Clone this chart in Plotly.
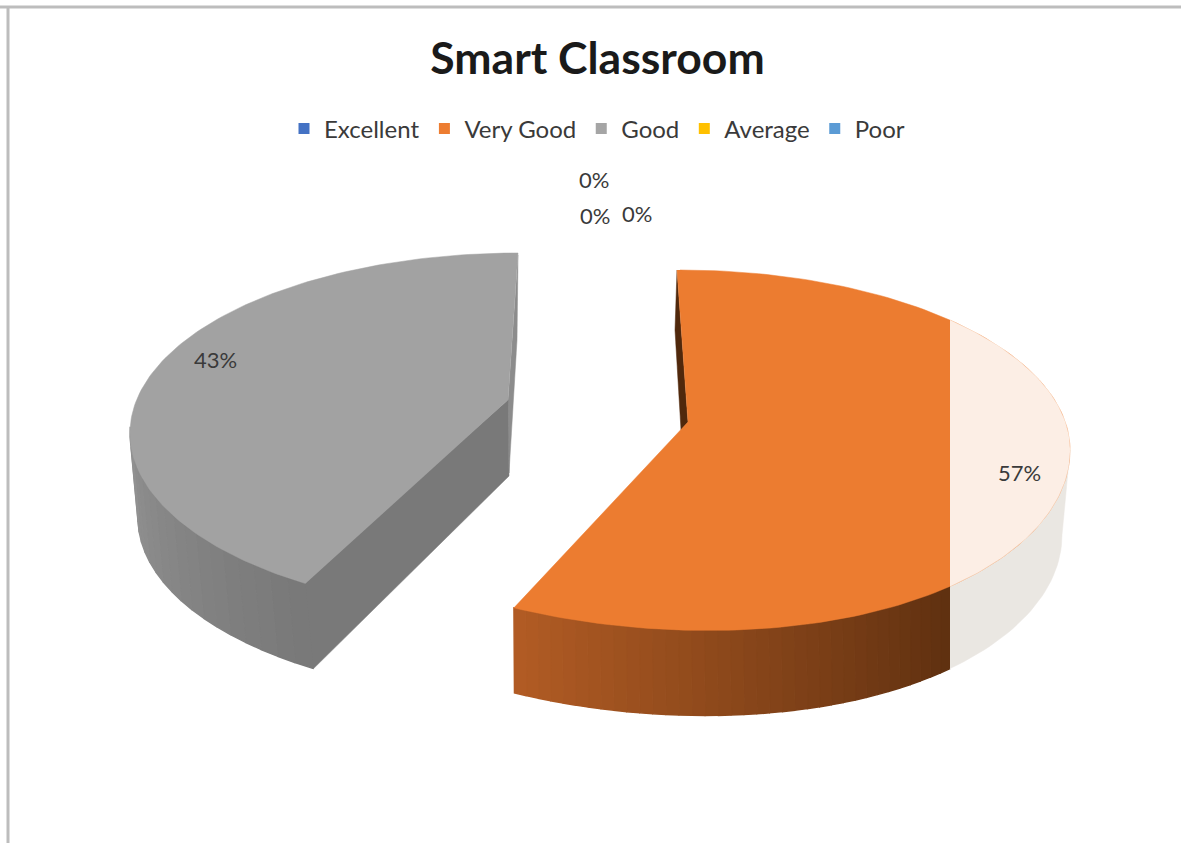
import numpy as np
import plotly.graph_objects as go

# ---- data ----
categories = ["Excellent", "Very Good", "Good", "Average", "Poor"]
percent_values = [0, 57, 43, 0, 0]
legend_colors = ["#4472C4", "#ED7D31", "#A5A5A5", "#FFC000", "#5B9BD5"]
label_x = [594, 1019, 215, 595, 637]
label_y = [179, 472, 359, 215, 213]

W, H = 1181, 843
FONT = "Lato"
TEXT = "#3a3a3a"

split = 360 * percent_values[1] / 100   # angle where Very Good ends (clockwise from top)


def arc(cx, cy, rx, ry, t, tilt=0.0):
    t = np.radians(t)
    s, c = np.sin(t), np.cos(t)
    # the near half of the disc leans slightly in the perspective of the original
    return cx + rx * s, cy - ry * c + tilt * s * np.maximum(0, -c)


def mix(c1, c2, u):
    return "rgb(%d,%d,%d)" % tuple(round(a + (b - a) * u) for a, b in zip(c1, c2))


fig = go.Figure()


def poly(xs, ys, color, lw=1.5):
    fig.add_trace(go.Scatter(x=list(xs), y=list(ys), mode="lines", fill="toself",
                             fillcolor=color, line=dict(color=color, width=lw),
                             hoverinfo="skip", showlegend=False))


# ---- Very Good wedge ----
O_TOP = (680, 450, 390, 180)
O_BOT = (678, 535, 384, 180)
O_TILT = 13
WASH_X = 950
t_top = 180 - np.degrees(np.arcsin((WASH_X - O_TOP[0]) / O_TOP[2]))
t_bot = 180 - np.degrees(np.arcsin((WASH_X - O_BOT[0]) / O_BOT[2]))

# washed-out side
t1 = np.linspace(t_top, 90, 30)
t2 = np.linspace(90, t_bot, 30)
x1, y1 = arc(*O_TOP, t1, O_TILT)
x2, y2 = arc(*O_BOT, t2, O_TILT)
poly(np.r_[x1, x2], np.r_[y1, y2], "rgb(234,231,226)", 0.5)

# shaded side
N = 36
edges = np.linspace(0, 1, N + 1)
for i in range(N):
    us = np.linspace(edges[i], edges[i + 1], 4)
    tx, ty = arc(*O_TOP, t_top + us * (split - t_top), O_TILT)
    bx, by = arc(*O_BOT, t_bot + us * (split - t_bot), O_TILT)
    poly(np.r_[tx, bx[::-1]], np.r_[ty, by[::-1]],
         mix((95, 48, 16), (178, 92, 36), (i + .5) / N))

# thin inner wall at the apex
poly([677, 675, 681, 688], [270, 330, 430, 422], "rgb(80,40,12)", 0.5)

# top face: full orange, then the washed-out part
t = np.linspace(0, split, 160)
x, y = arc(*O_TOP, t, O_TILT)
poly(np.r_[x, 680, 688, 677], np.r_[y, 430, 422, 270], "#EC7C30", 0.5)
t = np.linspace(180 - t_top, t_top, 80)
x, y = arc(*O_TOP, t, O_TILT)
poly(x, y, "rgb(252,238,229)", 0.5)

# ---- Good wedge ----
G_TOP = (518, 433, 388, 180)
G_BOT = (526, 518, 388, 180)
G_START = split + 8
G_END = 360
G_APEX = (508, 400)

# far sliver and flat cut side (runs a little under the curved side to hide the seam)
poly([518, 517, 509, 508], [255, 340, 473, 400], "rgb(140,140,140)", 0.5)
gx0, gy0 = arc(*G_TOP, G_START)
gx1, gy1 = arc(*G_BOT, G_START)
poly([gx0 - 4, G_APEX[0], 509, gx1, gx1 - 4], [gy0 - 1, G_APEX[1], 476, gy1, gy1 - 2],
     "rgb(121,121,121)", 0.5)

# curved side
N = 18
edges = np.linspace(G_START, 272, N + 1)
for i in range(N):
    ts = np.linspace(edges[i], edges[i + 1], 4)
    tx, ty = arc(*G_TOP, ts)
    bx, by = arc(*G_BOT, ts)
    poly(np.r_[tx, bx[::-1]], np.r_[ty, by[::-1]],
         mix((120, 120, 120), (146, 146, 146), (i + .5) / N))

# top face
t = np.linspace(G_START, G_END, 140)
x, y = arc(*G_TOP, t)
poly(np.r_[x, G_APEX[0]], np.r_[y, G_APEX[1]], "rgb(162,162,162)", 0.5)

# ---- legend ----
for name, color in zip(categories, legend_colors):
    fig.add_trace(go.Scatter(x=[None], y=[None], mode="markers", name=name,
                             marker=dict(symbol="square", size=11, color=color)))

# ---- data labels ----
for v, lx, ly in zip(percent_values, label_x, label_y):
    fig.add_annotation(x=lx, y=ly, text=f"{v}%", showarrow=False,
                       font=dict(family=FONT, size=22, color=TEXT))

fig.update_layout(
    width=W, height=H, margin=dict(l=0, r=0, t=0, b=0, autoexpand=False),
    autosize=False,
    paper_bgcolor="white", plot_bgcolor="white",
    title=dict(text="<b>Smart Classroom</b>", x=597.5 / W, xanchor="center",
               y=1 - 58 / H, yanchor="middle",
               font=dict(family=FONT, size=44.5, color="#1a1a1a")),
    legend=dict(orientation="h", x=597 / W, xanchor="center", y=1 - 129 / H, yanchor="middle",
                font=dict(family=FONT, size=24, color=TEXT), bgcolor="rgba(0,0,0,0)",
                itemclick=False, itemdoubleclick=False),
    xaxis=dict(range=[0, W], visible=False, fixedrange=True),
    yaxis=dict(range=[H, 0], visible=False, fixedrange=True),
    shapes=[
        dict(type="line", xref="paper", yref="paper", x0=0, x1=1, y0=1 - 7 / H, y1=1 - 7 / H,
             line=dict(color="#bdbdbd", width=3)),
        dict(type="line", xref="paper", yref="paper", x0=8 / W, x1=8 / W, y0=0, y1=1 - 7 / H,
             line=dict(color="#bdbdbd", width=3)),
    ],
)

fig.write_html("out.html", config=dict(displayModeBar=False),
               post_script="document.body.style.margin='0';document.documentElement.style.overflow='hidden';")
